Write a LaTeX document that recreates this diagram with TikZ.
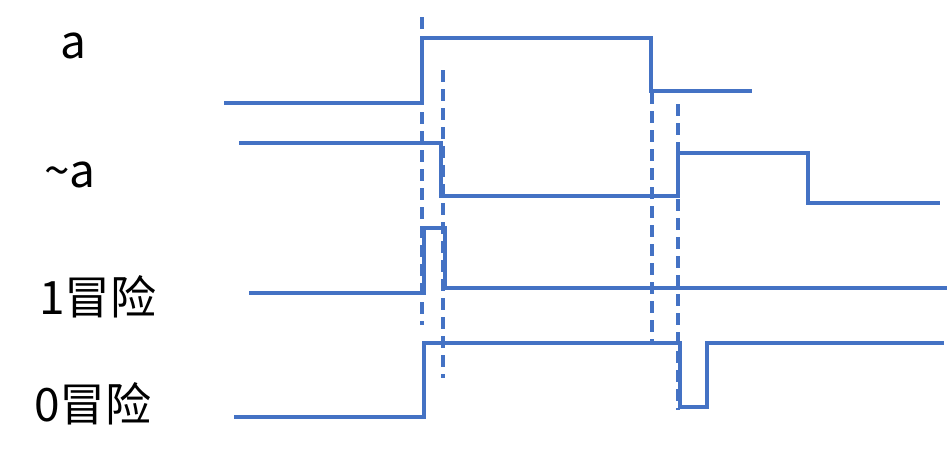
\documentclass[tikz,border=0pt]{standalone}
\usepackage{fontspec}
\usepackage{tikz}
\usetikzlibrary{positioning, calc}
\usepackage{xcolor}
\newfontfamily\cjk{Noto Sans CJK SC}
\definecolor{waveColor}{HTML}{4472C4}
\tikzset{
  wave/.style = {draw=waveColor, line width=3.2pt},% signal trace
  edgeMark/.style = {draw=waveColor, line width=3.4pt, dash pattern=on 12pt off 7pt},% dashed edge marker
  sigLabel/.style = {font=\cjk\fontsize{46}{50}\selectfont, inner sep=0pt, anchor=center},
}
\begin{document}
\begin{tikzpicture}[x=1pt, y=-1pt]
\useasboundingbox (0,0) rectangle (949,461);
% labels
\node [sigLabel] (labA) at (73,46) {a};
\node [sigLabel] (labNotA) at (70,175) {\textasciitilde a};
\node [sigLabel] (labOne) at (98,297) {1冒险};
\node [sigLabel] (labZero) at (93,404) {0冒险};
% dashed markers
\draw [edgeMark] (422,17) -- (422,325);
\draw [edgeMark] (443,70) -- (443,378);
\draw [edgeMark] (652,92) -- (652,343);
\draw [edgeMark] (678,104) -- (678,410);
% waveforms
\draw [wave] (224,103) -- (422,103) -- (422,38) -- (651,38) -- (651,91) -- (752,91);
\draw [wave] (239,143) -- (441,143) -- (441,196) -- (678,196) -- (678,153) -- (808,153) -- (808,203) -- (940,203);
\draw [wave] (249,293) -- (424,293) -- (424,228) -- (445,228) -- (445,288) -- (947,288);
\draw [wave] (234,417) -- (424,417) -- (424,343) -- (680,343) -- (680,407) -- (707,407) -- (707,343) -- (944,343);
\end{tikzpicture}
\end{document}
